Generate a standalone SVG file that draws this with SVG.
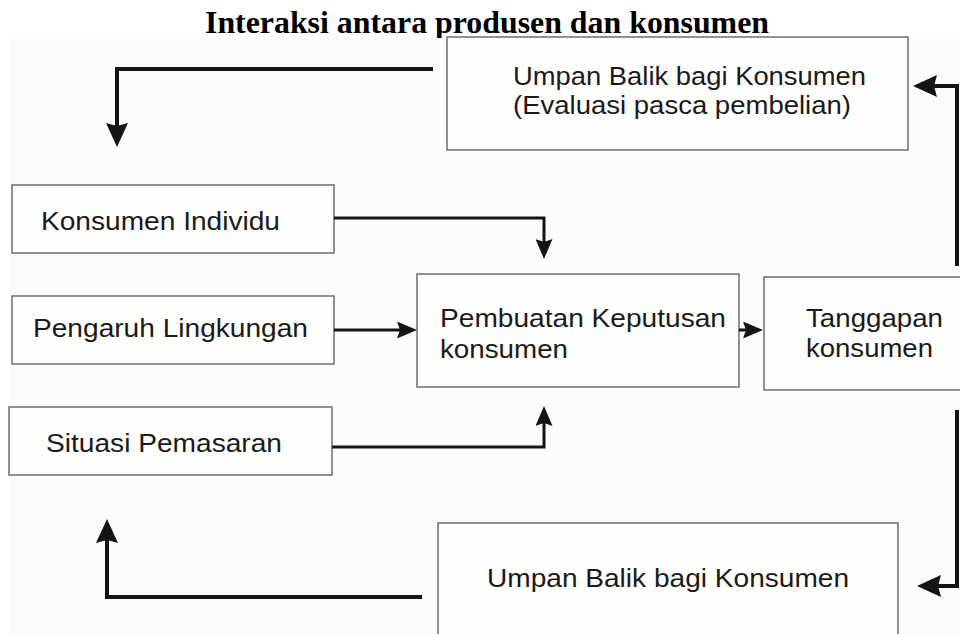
<svg xmlns="http://www.w3.org/2000/svg" width="960" height="634" viewBox="0 0 960 634">
<style>
.box{fill:#fefefd;stroke:#6e6e6e;stroke-width:1.5}
.lbl{font-family:"Liberation Sans",Arial,sans-serif;font-size:25px;fill:#1a1a1a}
.title{font-family:"Liberation Serif","Times New Roman",serif;font-size:32px;font-weight:bold;fill:#000}
.big{fill:none;stroke:#141414;stroke-width:4;stroke-linejoin:miter}
.sm{fill:none;stroke:#141414;stroke-width:3;stroke-linejoin:miter}
</style>
<defs>
<marker id="ahS" markerUnits="userSpaceOnUse" viewBox="0 0 20 17" markerWidth="20" markerHeight="17" refX="3" refY="8.5" orient="auto">
<path d="M0,0 L20,8.5 L0,17 L3,8.5 z" fill="#141414"/>
</marker>
<marker id="ahB" markerUnits="userSpaceOnUse" viewBox="0 0 24 22" markerWidth="24" markerHeight="22" refX="3" refY="11" orient="auto">
<path d="M0,0 L24,11 L0,22 L3,11 z" fill="#141414"/>
</marker>
</defs>
<rect x="0" y="0" width="960" height="634" fill="#ffffff"/>
<text class="title" x="205" y="33" textLength="564" lengthAdjust="spacingAndGlyphs">Interaksi antara produsen dan konsumen</text>
<rect x="10" y="38" width="950" height="596" fill="#fdfcfb"/>

<g id="umpan-balik-atas">
<rect class="box" x="447" y="37" width="461" height="113"/>
<text class="lbl" x="513" y="85" textLength="353" lengthAdjust="spacingAndGlyphs">Umpan Balik bagi Konsumen</text>
<text class="lbl" x="513" y="114" textLength="338" lengthAdjust="spacingAndGlyphs">(Evaluasi pasca pembelian)</text>
</g>
<g id="konsumen-individu">
<rect class="box" x="12" y="185" width="322" height="68"/>
<text class="lbl" x="41" y="230" textLength="239" lengthAdjust="spacingAndGlyphs">Konsumen Individu</text>
</g>
<g id="pengaruh-lingkungan">
<rect class="box" x="12" y="296" width="322" height="68"/>
<text class="lbl" x="33" y="337" textLength="275" lengthAdjust="spacingAndGlyphs">Pengaruh Lingkungan</text>
</g>
<g id="situasi-pemasaran">
<rect class="box" x="9" y="407" width="323" height="68"/>
<text class="lbl" x="46" y="452" textLength="236" lengthAdjust="spacingAndGlyphs">Situasi Pemasaran</text>
</g>
<g id="pembuatan-keputusan">
<rect class="box" x="417" y="274" width="322" height="113"/>
<text class="lbl" x="440" y="327" textLength="286" lengthAdjust="spacingAndGlyphs">Pembuatan Keputusan</text>
<text class="lbl" x="440" y="358" textLength="128" lengthAdjust="spacingAndGlyphs">konsumen</text>
</g>
<g id="tanggapan-konsumen">
<rect class="box" x="764" y="277" width="210" height="113"/>
<text class="lbl" x="806" y="327" textLength="137" lengthAdjust="spacingAndGlyphs">Tanggapan</text>
<text class="lbl" x="806" y="357" textLength="127" lengthAdjust="spacingAndGlyphs">konsumen</text>
</g>
<g id="umpan-balik-bawah">
<rect class="box" x="438" y="523" width="460" height="130"/>
<text class="lbl" x="487" y="587" textLength="362" lengthAdjust="spacingAndGlyphs">Umpan Balik bagi Konsumen</text>
</g>

<g id="connectors">
<path class="big" d="M433,69 H117 V126" marker-end="url(#ahB)"/>
<path class="big" d="M957,266 V86 H934" marker-end="url(#ahB)"/>
<path class="sm" d="M334,218 H544 V242" marker-end="url(#ahS)"/>
<path class="sm" d="M334,330 H400" marker-end="url(#ahS)"/>
<path class="sm" d="M332,447 H544 V423" marker-end="url(#ahS)"/>
<path class="sm" d="M739,330 H746" marker-end="url(#ahS)"/>
<path class="big" d="M957,410 V586 H938" marker-end="url(#ahB)"/>
<path class="big" d="M422,597 H107 V540" marker-end="url(#ahB)"/>
</g>
</svg>
